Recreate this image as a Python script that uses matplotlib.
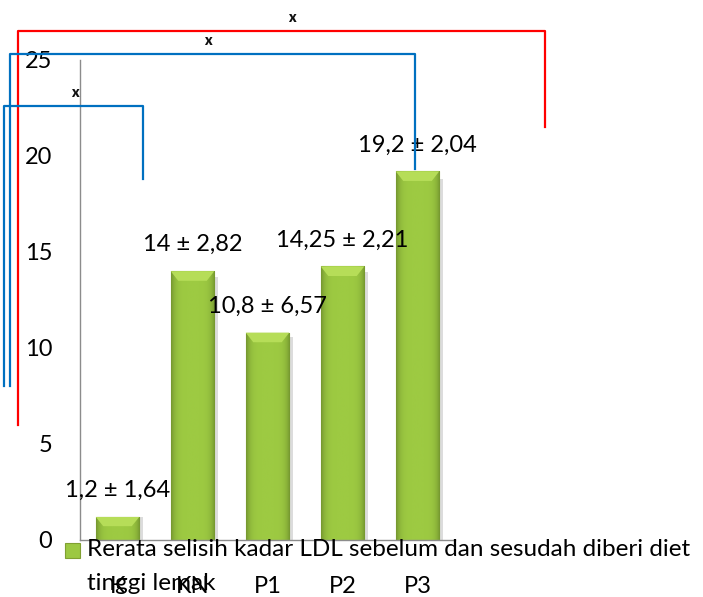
import numpy as np
import matplotlib
matplotlib.use('Agg')
import matplotlib.pyplot as plt

plt.rcParams['font.family'] = ['Lato', 'DejaVu Sans']

# data
groups = ['K', 'KN', 'P1', 'P2', 'P3']
means = [1.2, 14, 10.8, 14.25, 19.2]
sds = ['1,64', '2,82', '6,57', '2,21', '2,04']
mean_txt = ['1,2', '14', '10,8', '14,25', '19,2']
legend_label = 'Rerata selisih kadar LDL sebelum dan sesudah diberi diet\ntinggi lemak'

# significance brackets (data coords): left x, right x, top y, left foot, right foot, colour
brackets = [
    (-1.33, 5.70, 26.5, 6.0, 21.5, '#ff0000'),
    (-1.43, 3.97, 25.3, 8.0, 19.3, '#0070c0'),
    (-1.51, 0.34, 22.6, 8.0, 18.8, '#0070c0'),
]
marks = [(2.33, 27.2), (1.21, 26.0), (-0.57, 23.3)]

W, H = 703, 597
fig = plt.figure(figsize=(W / 100, H / 100), dpi=100)
ax = fig.add_axes([80/W, 57/H, 375/W, 480/H])

bar_color = '#9cc842'
x = np.arange(len(groups))
bars = ax.bar(x, means, width=0.58, color=bar_color, edgecolor='#80a032', lw=0.8, zorder=2)

# gradient + bevel on each bar
grad = np.linspace(-1, 1, 64)
grad = 1 - np.abs(grad) ** 5
cmap = matplotlib.colors.LinearSegmentedColormap.from_list('g', ['#769830', '#9dca42'])
for b in bars:
    x0, w, h = b.get_x(), b.get_width(), b.get_height()
    im = ax.imshow(grad[None, :], cmap=cmap, vmin=0, vmax=1, aspect='auto',
                   extent=[x0, x0 + w, 0, h], zorder=2.5)
    im.set_clip_path(b)
    bev = min(0.5, h * 0.4)
    ax.fill([x0, x0 + w, x0 + w - 0.1, x0 + 0.1], [h, h, h - bev, h - bev],
            color='#b6dd58', lw=0, zorder=3)
    # soft shadow
    ax.add_patch(plt.Rectangle((x0 + w, 0), 0.05, h * 0.98, color='#dcdcdc', lw=0, zorder=1))

for xi, m, s, mt in zip(x, means, sds, mean_txt):
    ax.annotate(f'{mt} ± {s}', (xi, m), xytext=(0, 19), textcoords='offset points',
                ha='center', va='center', fontsize=17, zorder=4)

ax.set_xlim(-0.5, 4.5)
ax.set_ylim(0, 25)
ax.set_yticks([0, 5, 10, 15, 20, 25])
ax.set_xticks(x)
ax.set_xticklabels(groups)
ax.tick_params(axis='y', length=0, pad=20, labelsize=17)
ax.tick_params(axis='x', length=0, pad=26, labelsize=17)
for sp in ['top', 'right']:
    ax.spines[sp].set_visible(False)
for sp in ['left', 'bottom']:
    ax.spines[sp].set_color('#8c8c8c')
    ax.spines[sp].set_linewidth(1)

for lx, rx, ty, lf, rf, c in brackets:
    ax.plot([lx, lx, rx, rx], [lf, ty, ty, rf], color=c, lw=1.6, clip_on=False, zorder=5)
for mx, my in marks:
    ax.text(mx, my, 'x', fontsize=10, fontweight='heavy', ha='center', va='center',
            color='#111111', clip_on=False)

# legend (square sits beside the first line, as in the original)
fig.patches.append(plt.Rectangle((65/W, 1 - 558/H), 15/W, 15/H, transform=fig.transFigure,
                                 facecolor=bar_color, edgecolor='#80a032', lw=0.8))
fig.text(87/W, 1 - 539/H, legend_label, fontsize=17.5, va='top', ha='left', linespacing=1.75)

fig.savefig('out.png', dpi=100)
